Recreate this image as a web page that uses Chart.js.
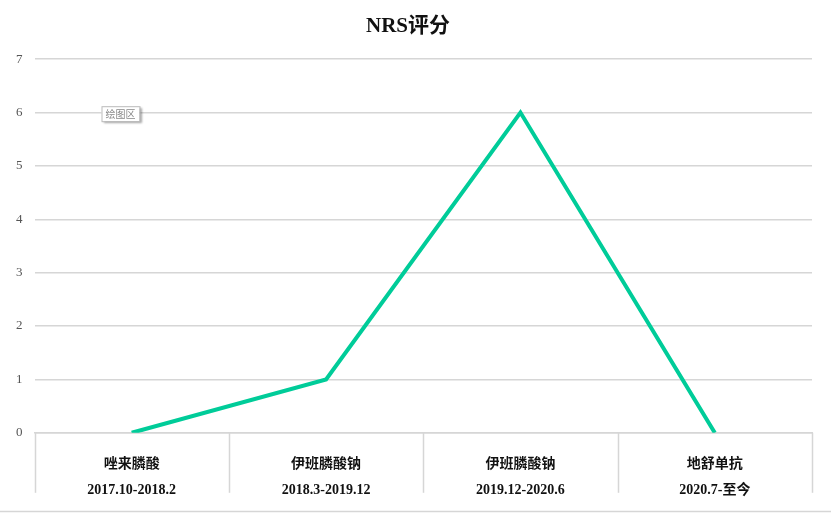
<!DOCTYPE html>
<html>
<head>
<meta charset="utf-8">
<script src="https://cdn.jsdelivr.net/npm/chart.js@4"></script>
<style>
  body { margin: 0; background: #fff; }
  #wrap { width: 831px; height: 514px; }
</style>
</head>
<body>
<div id="wrap"><canvas id="nrsChart"></canvas></div>
<script>
const drugNames = ["唑来膦酸", "伊班膦酸钠", "伊班膦酸钠", "地舒单抗"]
const periods = ["2017.10-2018.2", "2018.3-2019.12", "2019.12-2020.6", "2020.7-至今"]
const nrsScores = [0, 1, 6, 0]
const yTicks = [0, 1, 2, 3, 4, 5, 6, 7]

// category dividers below the axis + bottom rule + the little "绘图区" tag
const extras = {
    id: 'extras',
    afterDraw(chart) {
        const ctx = chart.ctx
        const x = chart.scales.x
        const area = chart.chartArea
        const half = (x.getPixelForValue(1) - x.getPixelForValue(0)) / 2
        ctx.save()
        ctx.strokeStyle = "#d6d6d6"
        ctx.lineWidth = 1.5
        for (let i = 0; i <= drugNames.length; i++) {
            const px = Math.round(x.getPixelForValue(i) - half) + 0.5
            ctx.beginPath()
            ctx.moveTo(px, area.bottom)
            ctx.lineTo(px, area.bottom + 60)
            ctx.stroke()
        }
        ctx.beginPath()
        ctx.moveTo(0, 511.5)
        ctx.lineTo(831, 511.5)
        ctx.stroke()

        // tag
        const tx = area.left + 67, ty = area.top + 47
        ctx.shadowColor = "rgba(0,0,0,0.35)"
        ctx.shadowOffsetX = 2
        ctx.shadowOffsetY = 2
        ctx.shadowBlur = 2
        ctx.fillStyle = "#fff"
        ctx.fillRect(tx, ty, 38, 15)
        ctx.shadowColor = "transparent"
        ctx.strokeStyle = "#bbb"
        ctx.lineWidth = 1
        ctx.strokeRect(tx + 0.5, ty + 0.5, 38, 15)
        ctx.fillStyle = "#888"
        ctx.font = "10px 'Noto Sans CJK SC'"
        ctx.textAlign = "center"
        ctx.textBaseline = "middle"
        ctx.fillText("绘图区", tx + 19, ty + 8)
        ctx.restore()
    }
}

const ctx = document.getElementById("nrsChart").getContext('2d')
const chart = new Chart(ctx, {
    type: "line",
    data: {
        labels: drugNames.map((n, i) => [n, periods[i]]),
        datasets: [{
            data: nrsScores,
            borderColor: "#00cc99",
            borderWidth: 4,
            pointRadius: 0,
            tension: 0,
            fill: false
        }]
    },
    plugins: [extras],
    options: {
        responsive: true,
        maintainAspectRatio: false,
        animation: false,
        layout: { padding: { left: 4, right: 19, top: 0, bottom: 0 } },
        scales: {
            x: {
                offset: true,
                grid: { display: false },
                border: { color: "#d6d6d6", width: 1.5 },
                ticks: {
                    color: "#111",
                    padding: 10,
                    maxRotation: 0,
                    font: { family: "'Liberation Serif', 'Noto Sans CJK SC', serif", size: 14, weight: "bold", lineHeight: 1.9 }
                }
            },
            y: {
                min: 0,
                max: 7,
                afterBuildTicks: axis => { axis.ticks = yTicks.map(v => ({ value: v })) },
                grid: { color: "#d6d6d6", lineWidth: 1.5, drawTicks: false },
                border: { display: false },
                ticks: {
                    color: "#555",
                    padding: 12,
                    font: { family: "'Liberation Serif', serif", size: 13 }
                }
            }
        },
        plugins: {
            legend: { display: false },
            tooltip: { enabled: false },
            title: {
                display: true,
                text: "NRS评分",
                color: "#111",
                padding: { top: 14, bottom: 20 },
                font: { family: "'Liberation Serif', 'Noto Sans CJK SC', serif", size: 21, weight: "bold" }
            }
        }
    }
})
</script>
</body>
</html>
